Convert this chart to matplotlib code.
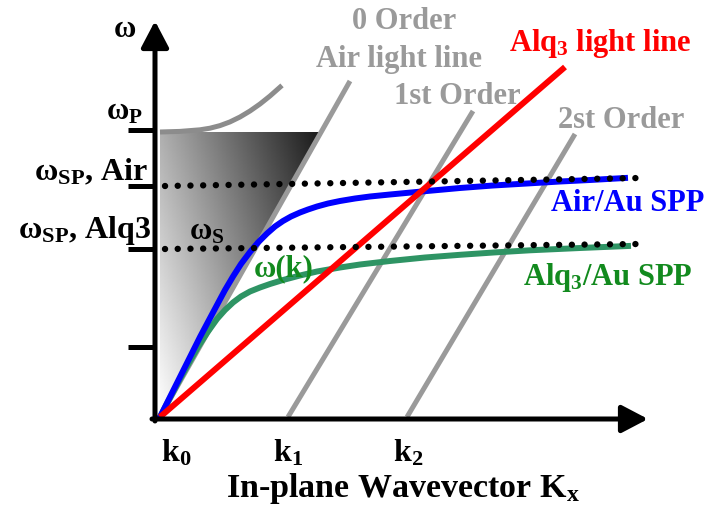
import numpy as np
import matplotlib
matplotlib.use("Agg")
import matplotlib.pyplot as plt
from matplotlib.patches import Polygon

plt.rcParams["font.family"] = ["Liberation Serif", "DejaVu Serif"]
plt.rcParams["font.weight"] = "bold"
plt.rcParams["mathtext.fontset"] = "custom"
plt.rcParams["mathtext.rm"] = "Liberation Serif:bold"
plt.rcParams["mathtext.it"] = "Liberation Serif:bold"
plt.rcParams["mathtext.bf"] = "Liberation Serif:bold"

# schematic values (arbitrary units)
air_spp_k = [0, 0.12, 0.23, 0.32, 0.40, 0.49, 0.57, 0.65, 0.73, 0.81, 0.90, 0.98,
             1.07, 1.15, 1.23, 1.31, 1.40, 1.48, 1.57, 1.68, 1.80, 1.95, 2.10, 2.30,
             2.67, 3.00, 3.33, 3.67, 4.00, 4.30, 4.65]
air_spp_w = [0, 0.24, 0.46, 0.64, 0.80, 0.97, 1.12, 1.27, 1.405, 1.53, 1.65, 1.745,
             1.835, 1.905, 1.96, 2.005, 2.045, 2.075, 2.105, 2.135, 2.16, 2.185, 2.205, 2.225,
             2.26, 2.29, 2.315, 2.335, 2.355, 2.37, 2.39]
alq_spp_k = [0, 0.10, 0.20, 0.30, 0.38, 0.47, 0.57, 0.65, 0.73, 0.81, 0.90, 1.00,
             1.10, 1.23, 1.40, 1.57, 1.80, 2.00, 2.30, 2.65, 3.00, 3.35, 3.70, 4.20, 4.68]
alq_spp_w = [0, 0.19, 0.38, 0.56, 0.70, 0.84, 0.98, 1.07, 1.145, 1.205, 1.255, 1.295,
             1.33, 1.37, 1.415, 1.455, 1.495, 1.525, 1.56, 1.595, 1.622, 1.646, 1.667,
             1.69, 1.71]
plasma_k = [0, 0.20, 0.40, 0.50, 0.60, 0.70, 0.80, 0.90, 1.00, 1.10, 1.22]
plasma_w = [2.85, 2.856, 2.872, 2.888, 2.914, 2.951, 3.00, 3.06, 3.13, 3.21, 3.316]

alq_light_k = [0, 4.05]
alq_light_w = [0, 3.50]
order_k = {"0": [0, 1.90], "1": [1.28, 3.13], "2": [2.47, 4.15]}
order_w = {"0": [0, 3.36], "1": [0, 3.06], "2": [0, 2.83]}

w_sp_air = [2.31, 2.39]
w_sp_alq = [1.68, 1.73]
dots_k = [0.05, 4.80]

ytick_w = [2.87, 2.31, 1.68, 0.70]
k_tick_pos = [0.16, 1.28, 2.48]
k_tick_lab = ["k$_0$", "k$_1$", "k$_2$"]
w_p = 2.85
shade_k = [0, 0, 1.61]
shade_w = [0, w_p, w_p]

GRAY = "#9a9a9a"
GREEN_LINE = "#2e9464"
GREEN_TXT = "#128a1e"

fig = plt.figure(figsize=(7.07, 5.10), dpi=100)
ax = fig.add_axes([0, 0, 1, 1])
ax.set_xlim(-1.60, 5.47)
ax.set_ylim(-0.92, 4.18)
ax.axis("off")

# gradient shaded region under the air light line
gx, gy = np.meshgrid(np.linspace(0, 1.61, 200), np.linspace(0, w_p, 300))
shade = np.clip(1 - 0.366 * gx - 0.11 * gy, 0, 1)
poly = Polygon(list(zip(shade_k, shade_w)), closed=True, facecolor="none", edgecolor="none")
ax.add_patch(poly)
im = ax.imshow(shade, extent=(0, 1.61, 0, w_p), origin="lower", cmap="gray",
               vmin=0, vmax=1, aspect="auto", zorder=1)
im.set_clip_path(poly)

# grating orders / light lines
for o in ["0", "1", "2"]:
    ax.plot(order_k[o], order_w[o], color=GRAY, lw=3.6, solid_capstyle="butt", zorder=2)
ax.plot(plasma_k, plasma_w, color="#8c8c8c", lw=3.6, solid_capstyle="butt",
        solid_joinstyle="round", zorder=2)

ax.plot(alq_spp_k, alq_spp_w, color=GREEN_LINE, lw=4.3, solid_joinstyle="round", zorder=3)
ax.plot(air_spp_k, air_spp_w, color="#0000ff", lw=4.3, solid_joinstyle="round", zorder=4)
ax.plot(alq_light_k, alq_light_w, color="#ff0000", lw=4.3, solid_capstyle="butt", zorder=5)

for wl in [w_sp_air, w_sp_alq]:
    ax.plot(dots_k, wl, color="black", lw=4.6, linestyle=(0, (0.01, 1.98)),
            dash_capstyle="round", zorder=6)

# axes with arrows
arrow = dict(arrowstyle="-|>,head_length=0.8,head_width=0.42", lw=3.6, color="black",
             shrinkA=0, shrinkB=0, mutation_scale=20)
ax.annotate("", xy=(-0.05, 3.96), xytext=(-0.05, -0.04), arrowprops=arrow, zorder=7)
ax.annotate("", xy=(4.88, -0.02), xytext=(-0.08, -0.02), arrowprops=arrow, zorder=7)
ax.hlines(ytick_w, -0.32, -0.05, color="black", lw=3.6, zorder=7)

# labels
fs = 22
ax.text(-0.35, 3.88, "ω", fontsize=fs, ha="center", va="center")
ax.text(-0.17, 3.06, r"ω$_{\rm P}$", fontsize=22, ha="right", va="center")
ax.text(-0.12, 2.46, r"ω$_{\rm SP}$, Air", fontsize=23, ha="right", va="center")
ax.text(-0.09, 1.87, r"ω$_{\rm SP}$, Alq3", fontsize=23, ha="right", va="center")
ax.text(0.47, 1.86, r"ω$_{\rm S}$", fontsize=fs, ha="center", va="center")
ax.text(1.24, 1.49, "ω(k)", fontsize=fs, color=GREEN_TXT, ha="center", va="center", zorder=8)
ax.text(2.44, 3.96, "0 Order", fontsize=fs, color=GRAY, ha="center", va="center")
ax.text(2.39, 3.58, "Air light line", fontsize=fs, color=GRAY, ha="center", va="center")
ax.text(2.97, 3.21, "1st Order", fontsize=fs, color=GRAY, ha="center", va="center")
ax.text(4.61, 2.97, "2st Order", fontsize=fs, color=GRAY, ha="center", va="center")
ax.text(4.40, 3.74, r"Alq$_3$ light line", fontsize=fs, color="#ff0000", ha="center", va="center")
ax.text(4.68, 2.14, "Air/Au SPP", fontsize=fs, color="#0000ff", ha="center", va="center")
ax.text(4.48, 1.40, r"Alq$_3$/Au SPP", fontsize=fs, color=GREEN_TXT, ha="center", va="center")
for kp, kl in zip(k_tick_pos, k_tick_lab):
    ax.text(kp, -0.35, kl, fontsize=23, ha="center", va="center")
ax.text(2.43, -0.71, r"In-plane Wavevector K$_{\rm x}$", fontsize=24.5, ha="center", va="center")

fig.savefig("out.png", dpi=100, facecolor="white")
